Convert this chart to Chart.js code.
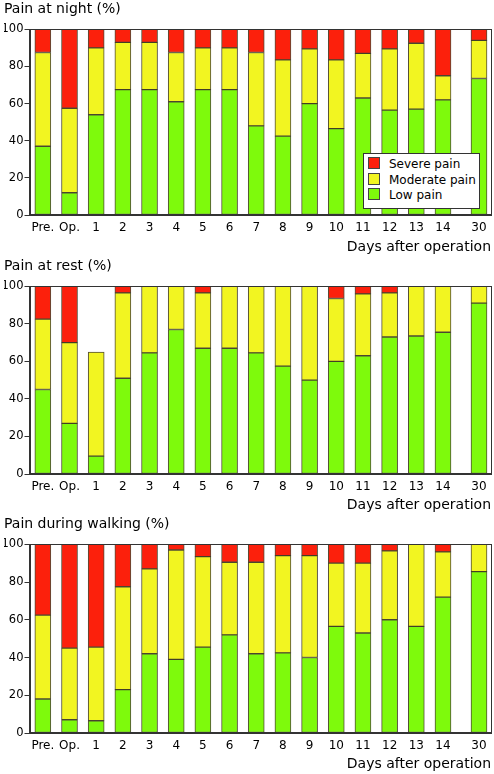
<!DOCTYPE html>
<html>
<head>
<meta charset="utf-8">
<script src="https://cdn.jsdelivr.net/npm/chart.js@4.4.1/dist/chart.umd.min.js"></script>
<style>
body { margin: 0; background: #fff; }
.box { position: relative; width: 494px; }
#legend {
    position: absolute; left: 363px; top: 153px; width: 115px; height: 51px;
    border: 1px solid #333; background: #fff; padding-top: 3px;
    font-family: "DejaVu Sans", sans-serif; font-size: 12px; color: #000;
}
#legend div { height: 15.6px; line-height: 15.6px; white-space: nowrap; }
#legend span {
    display: inline-block; width: 10px; height: 10px; border: 1px solid #444;
    margin: 0 9px 0 4px; vertical-align: -1px;
}
</style>
</head>
<body>
<div class="box" style="height:257px"><canvas id="night"></canvas><div id="legend"></div></div>
<div class="box" style="height:258px"><canvas id="rest"></canvas></div>
<div class="box" style="height:259px"><canvas id="walk"></canvas></div>
<script>
var days = ["Pre.", "Op.", "1", "2", "3", "4", "5", "6", "7", "8", "9", "10", "11", "12", "13", "14", "30"];
var seriesNames = ["Low pain", "Moderate pain", "Severe pain"];
var seriesColors = ["#7efa0c", "#f2f521", "#fc200c"];

// % of patients per day
var nightLow      = [37, 12, 54, 67.5, 67.5, 61, 67.5, 67.5, 48, 42.5, 60, 46.5, 63, 56.5, 57, 62, 73.5];
var nightModerate = [50.5, 45.5, 36, 25.5, 25.5, 26.5, 22.5, 22.5, 39.5, 41, 29.5, 37, 24, 33, 35.5, 13, 20.5];
var nightSevere   = [12.5, 42.5, 10, 7, 7, 12.5, 10, 10, 12.5, 16.5, 10.5, 16.5, 13, 10.5, 7.5, 25, 6];

var restLow      = [45, 27, 9.5, 51, 64.5, 77, 67, 67, 64.5, 57.5, 50, 60, 63, 73, 73.5, 75.5, 91];
var restModerate = [37.5, 43, 55.5, 45.5, 35.5, 23, 29.5, 33, 35.5, 42.5, 50, 33.5, 33, 23.5, 26.5, 24.5, 9];
var restSevere   = [17.5, 30, 0, 3.5, 0, 0, 3.5, 0, 0, 0, 0, 6.5, 4, 3.5, 0, 0, 0];

var walkLow      = [18, 7, 6.5, 23, 42, 39, 45.5, 52, 42, 42.5, 40, 56.5, 53, 60, 56.5, 72, 85.5];
var walkModerate = [44.5, 38, 39, 54.5, 45, 58, 48, 38.5, 48.5, 51.5, 54, 33.5, 37, 36.5, 43.5, 24, 14.5];
var walkSevere   = [37.5, 55, 54.5, 22.5, 13, 3, 6.5, 9.5, 9.5, 6, 6, 10, 10, 3.5, 0, 4, 0];

var yTicks = [0, 20, 40, 60, 80, 100];

// day 30 sits a little further right than the daily bars
var xPos = days.map(function (d, i) { return i < days.length - 1 ? i : i + 0.35; });

var font = "DejaVu Sans";
var lineColor = "#333";

var frame = {
    id: "frame",
    afterDatasetsDraw: function (chart) {
        var a = chart.chartArea, c = chart.ctx;
        c.save();
        c.strokeStyle = lineColor;
        c.lineWidth = 1;
        c.strokeRect(Math.round(a.left) + 0.5, Math.round(a.top) + 0.5,
            Math.round(a.right - a.left) - 1, Math.round(a.bottom - a.top) - 1);
        c.restore();
    }
};

function makeChart(id, title, low, moderate, severe, axisHeight) {
    var sets = [low, moderate, severe].map(function (vals, k) {
        return {
            label: seriesNames[k],
            data: vals.map(function (v, i) { return { x: xPos[i], y: v }; }),
            backgroundColor: seriesColors[k],
            borderColor: "rgba(50,45,20,0.85)",
            borderWidth: 1,
            borderSkipped: false,
            barThickness: 16
        };
    });
    return new Chart(document.getElementById(id), {
        type: "bar",
        data: { datasets: sets },
        plugins: [frame],
        options: {
            responsive: true,
            maintainAspectRatio: false,
            animation: false,
            layout: { padding: { left: 4, right: 3, top: 0, bottom: 1 } },
            plugins: {
                legend: { display: false },
                tooltip: { enabled: false },
                title: {
                    display: true,
                    text: title,
                    align: "start",
                    color: "#000",
                    font: { family: font, size: 14, weight: "normal" },
                    padding: { top: 1, bottom: 11.5 }
                }
            },
            scales: {
                x: {
                    type: "linear",
                    stacked: true,
                    offset: false,
                    min: -0.5,
                    max: 16.8,
                    afterFit: function (scale) { scale.height = axisHeight; },
                    afterBuildTicks: function (scale) {
                        scale.ticks = xPos.map(function (v) { return { value: v }; });
                    },
                    grid: { display: true, drawOnChartArea: false, drawTicks: false, tickLength: 0 },
                    border: { display: true, color: lineColor },
                    ticks: {
                        autoSkip: false,
                        maxRotation: 0,
                        padding: 6,
                        color: "#000",
                        font: { family: font, size: 12 },
                        callback: function (v, i) { return days[i]; }
                    },
                    title: {
                        display: true,
                        text: "Days after operation",
                        align: "end",
                        color: "#000",
                        font: { family: font, size: 14 },
                        padding: { top: 3, bottom: 0 }
                    }
                },
                y: {
                    stacked: true,
                    min: 0,
                    max: 100,
                    afterFit: function (scale) { scale.width = 25.5; },
                    afterBuildTicks: function (scale) {
                        scale.ticks = yTicks.map(function (v) { return { value: v }; });
                    },
                    grid: { drawOnChartArea: false, drawTicks: true, tickLength: 5, color: lineColor },
                    border: { display: true, color: lineColor },
                    ticks: {
                        padding: 1,
                        color: "#000",
                        font: { family: font, size: 11.5 }
                    }
                }
            }
        }
    });
}

makeChart("night", "Pain at night (%)", nightLow, nightModerate, nightSevere, 41);
makeChart("rest", "Pain at rest (%)", restLow, restModerate, restSevere, 40);
makeChart("walk", "Pain during walking (%)", walkLow, walkModerate, walkSevere, 40);

// legend box inside the first panel, severe on top
var legend = document.getElementById("legend");
[2, 1, 0].forEach(function (k) {
    var row = document.createElement("div");
    var sw = document.createElement("span");
    sw.style.background = seriesColors[k];
    row.appendChild(sw);
    row.appendChild(document.createTextNode(seriesNames[k]));
    legend.appendChild(row);
});
</script>
</body>
</html>
